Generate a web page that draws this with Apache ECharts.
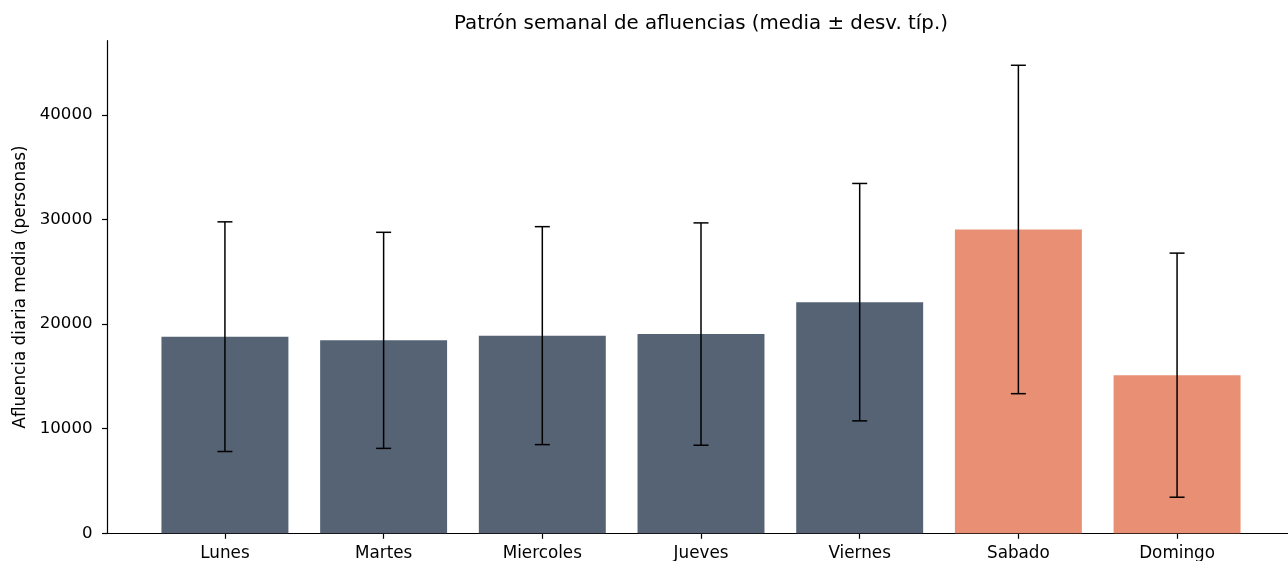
<!DOCTYPE html>
<html>
<head>
<meta charset="utf-8">
<script src="https://cdn.jsdelivr.net/npm/echarts@6/dist/echarts.min.js"></script>
<style>
  html, body { margin: 0; padding: 0; background: #ffffff; }
  #chart { width: 1288px; height: 561px; }
</style>
</head>
<body>
<div id="chart"></div>
<script>
// Daily visitor averages per weekday, with standard deviation
const dias = ['Lunes', 'Martes', 'Miercoles', 'Jueves', 'Viernes', 'Sabado', 'Domingo'];
const medias = [18800, 18450, 18900, 19050, 22100, 29050, 15120];
const desviaciones = [10980, 10330, 10420, 10630, 11350, 15700, 11670];
const finDeSemana = ['Sabado', 'Domingo'];
const ticksY = [0, 10000, 20000, 30000, 40000];

const COLOR_LABORABLE = '#566375';
const COLOR_FINDE = '#e88f74';
const FONT = 'DejaVu Sans';

const posiciones = dias.map((_, i) => i);

const barras = dias.map((d, i) => ({
  value: [i, medias[i]],
  itemStyle: { color: finDeSemana.includes(d) ? COLOR_FINDE : COLOR_LABORABLE }
}));

const errores = dias.map((d, i) => [i, medias[i], desviaciones[i]]);

const chart = echarts.init(document.getElementById('chart'), null, { renderer: 'canvas' });

chart.setOption({
  animation: false,
  backgroundColor: '#ffffff',
  title: {
    text: 'Patrón semanal de afluencias (media ± desv. típ.)',
    left: 696,
    textAlign: 'center',
    top: 9,
    textStyle: { fontFamily: FONT, fontSize: 19.8, fontWeight: 'normal', color: '#000' }
  },
  grid: {
    left: 107.5, top: 40.7, width: 1187, bottom: 27.7,
    containLabel: false, outerBoundsMode: 'none'
  },
  xAxis: {
    type: 'value',
    min: -0.74,
    max: 6.74,
    splitLine: { show: false },
    axisLine: { show: true, onZero: false, lineStyle: { color: '#000', width: 1.2 } },
    axisTick: { show: true, customValues: posiciones, length: 5.5, lineStyle: { color: '#000', width: 1.2 } },
    axisLabel: {
      customValues: posiciones,
      formatter: v => dias[Math.round(v)],
      fontFamily: FONT, fontSize: 16.8, color: '#000', margin: 11.5
    }
  },
  yAxis: {
    type: 'value',
    min: 0,
    max: 47100,
    name: 'Afluencia diaria media (personas)',
    nameLocation: 'middle',
    nameGap: 78,
    nameTextStyle: { fontFamily: FONT, fontSize: 16.8, color: '#000' },
    splitLine: { show: false },
    axisLine: { show: true, onZero: false, lineStyle: { color: '#000', width: 1.2 } },
    axisTick: { show: true, customValues: ticksY, length: 5.5, lineStyle: { color: '#000', width: 1.2 } },
    axisLabel: {
      customValues: ticksY,
      formatter: v => String(v),
      fontFamily: FONT, fontSize: 16.6, color: '#000', margin: 15
    }
  },
  series: [
    {
      type: 'bar',
      data: barras,
      barWidth: '80%',
      z: 2
    },
    {
      type: 'custom',
      data: errores,
      z: 5,
      renderItem: function (params, api) {
        const x = api.value(0);
        const m = api.value(1);
        const s = api.value(2);
        const top = api.coord([x, m + s]);
        const bot = api.coord([x, m - s]);
        const cap = 7.5;
        const style = { stroke: '#000', lineWidth: 1.5 };
        return {
          type: 'group',
          children: [
            { type: 'line', shape: { x1: top[0], y1: top[1], x2: bot[0], y2: bot[1] }, style },
            { type: 'line', shape: { x1: top[0] - cap, y1: top[1], x2: top[0] + cap, y2: top[1] }, style },
            { type: 'line', shape: { x1: bot[0] - cap, y1: bot[1], x2: bot[0] + cap, y2: bot[1] }, style }
          ]
        };
      }
    }
  ]
});
</script>
</body>
</html>
